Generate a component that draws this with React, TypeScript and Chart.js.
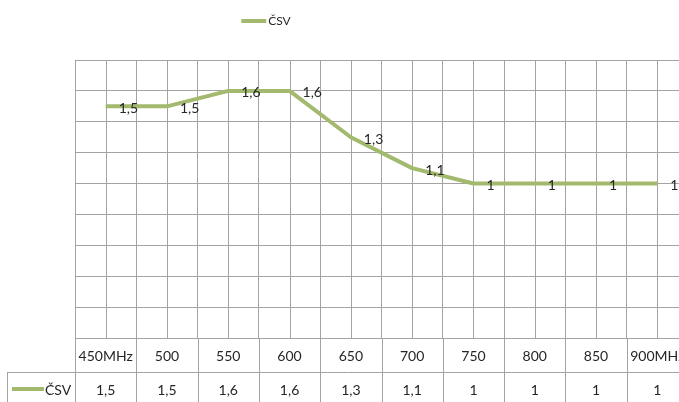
import React, { useEffect, useRef } from "react";
import { Chart, registerables } from "chart.js";

Chart.register(...registerables);

// Frequency points and standing-wave ratio (ČSV) values
const categories = ["450MHz", "500", "550", "600", "650", "700", "750", "800", "850", "900MHz"];
const csvValues = [1.5, 1.5, 1.6, 1.6, 1.3, 1.1, 1, 1, 1, 1];
const seriesName = "ČSV";

const yMin = 0;
const yMax = 1.8;
const yStep = 0.2;

const LINE_COLOR = "#a3b96d";
const GRID_COLOR = "#a3a3a3";
const TEXT_COLOR = "#262626";
const FONT = "Lato, 'Open Sans', sans-serif";

const fmt = (v: number) => String(v).replace(".", ",");

// Legend entry centred above the plot
const topLegendPlugin = {
  id: "topLegend",
  afterDraw(chart: any) {
    const { ctx } = chart;
    ctx.save();
    ctx.font = `12px ${FONT}`;
    const textW = ctx.measureText(seriesName).width;
    const keyW = 25;
    const total = keyW + 2 + textW;
    const x0 = 256 - total / 2 + 10;
    const y = 21;
    ctx.strokeStyle = LINE_COLOR;
    ctx.lineWidth = 4;
    ctx.beginPath();
    ctx.moveTo(x0, y);
    ctx.lineTo(x0 + keyW, y);
    ctx.stroke();
    ctx.fillStyle = TEXT_COLOR;
    ctx.textAlign = "left";
    ctx.textBaseline = "middle";
    ctx.fillText(seriesName, x0 + keyW + 2, y);
    ctx.restore();
  },
};

// Extra vertical lines through the middle of each category
const centerLinesPlugin = {
  id: "centerLines",
  beforeDatasetsDraw(chart: any) {
    const { ctx, chartArea } = chart;
    const xs = chart.scales.x;
    ctx.save();
    ctx.strokeStyle = GRID_COLOR;
    ctx.lineWidth = 1;
    for (let i = 0; i < categories.length; i++) {
      const px = Math.round(xs.getPixelForValue(i)) + 0.5;
      ctx.beginPath();
      ctx.moveTo(px, chartArea.top);
      ctx.lineTo(px, chartArea.bottom);
      ctx.stroke();
    }
    ctx.restore();
  },
};

// Value labels to the right of each point
const valueLabelsPlugin = {
  id: "valueLabels",
  afterDatasetsDraw(chart: any) {
    const { ctx } = chart;
    const meta = chart.getDatasetMeta(0);
    ctx.save();
    ctx.font = `14px ${FONT}`;
    ctx.fillStyle = TEXT_COLOR;
    ctx.textAlign = "left";
    ctx.textBaseline = "middle";
    meta.data.forEach((pt: any, i: number) => {
      ctx.fillText(fmt(csvValues[i]), pt.x + 13, pt.y + 2);
    });
    ctx.restore();
  },
};

// Data table under the plot: category row and value row with legend key
const dataTablePlugin = {
  id: "dataTable",
  afterDraw(chart: any) {
    const { ctx, chartArea } = chart;
    const xs = chart.scales.x;
    const n = categories.length;
    const half = (xs.getPixelForValue(1) - xs.getPixelForValue(0)) / 2;
    const left = chartArea.left;
    const right = xs.getPixelForValue(n - 1) + half;
    const row1Top = chartArea.bottom;
    const rowH = 34;
    const row2Top = row1Top + rowH;
    const row2Bottom = row2Top + rowH;
    const keyLeft = 7;
    const r = (v: number) => Math.round(v) + 0.5;

    ctx.save();
    ctx.strokeStyle = GRID_COLOR;
    ctx.lineWidth = 1;
    ctx.beginPath();
    // horizontal rules
    ctx.moveTo(left, r(row1Top));
    ctx.lineTo(right, r(row1Top));
    ctx.moveTo(keyLeft, r(row2Top));
    ctx.lineTo(right, r(row2Top));
    ctx.moveTo(keyLeft, r(row2Bottom));
    ctx.lineTo(right, r(row2Bottom));
    // left borders
    ctx.moveTo(r(left), row1Top);
    ctx.lineTo(r(left), row2Bottom);
    ctx.moveTo(r(keyLeft), row2Top);
    ctx.lineTo(r(keyLeft), row2Bottom);
    // cell dividers
    for (let i = 0; i <= n; i++) {
      const px = r(xs.getPixelForValue(i) - half);
      ctx.moveTo(px, row1Top);
      ctx.lineTo(px, row2Bottom);
    }
    ctx.stroke();

    ctx.font = `14px ${FONT}`;
    ctx.fillStyle = TEXT_COLOR;
    ctx.textAlign = "center";
    ctx.textBaseline = "middle";
    for (let i = 0; i < n; i++) {
      const cx = xs.getPixelForValue(i);
      ctx.fillText(categories[i], cx, row1Top + rowH / 2 + 1);
      ctx.fillText(fmt(csvValues[i]), cx, row2Top + rowH / 2 + 1);
    }

    // legend key in the value row
    ctx.strokeStyle = LINE_COLOR;
    ctx.lineWidth = 4;
    ctx.beginPath();
    ctx.moveTo(12, row2Top + rowH / 2);
    ctx.lineTo(44, row2Top + rowH / 2);
    ctx.stroke();
    ctx.textAlign = "left";
    ctx.fillText(seriesName, 45, row2Top + rowH / 2 + 1);
    ctx.restore();
  },
};

export default function App() {
  const canvasRef = useRef<HTMLCanvasElement | null>(null);

  useEffect(() => {
    const canvas = canvasRef.current;
    if (!canvas) return;
    const chart = new Chart(canvas, {
      type: "line",
      data: {
        labels: categories,
        datasets: [
          {
            label: seriesName,
            data: csvValues,
            borderColor: LINE_COLOR,
            backgroundColor: LINE_COLOR,
            borderWidth: 4,
            pointRadius: 0,
            pointHoverRadius: 0,
            tension: 0,
            borderJoinStyle: "round",
          },
        ],
      },
      options: {
        responsive: false,
        animation: false,
        devicePixelRatio: 1,
        layout: { padding: { left: 75, right: 2, top: 60, bottom: 68 } },
        plugins: {
          legend: { display: false },
          tooltip: { enabled: false },
        },
        scales: {
          x: {
            type: "category",
            offset: true,
            grid: { offset: true, color: GRID_COLOR, drawTicks: false },
            border: { display: false },
            ticks: { display: false },
          },
          y: {
            min: yMin,
            max: yMax,
            ticks: { stepSize: yStep, display: false },
            grid: { color: GRID_COLOR, drawTicks: false },
            border: { display: false },
          },
        },
      },
      plugins: [centerLinesPlugin, valueLabelsPlugin, dataTablePlugin, topLegendPlugin],
    });
    return () => chart.destroy();
  }, []);

  return (
    <div
      style={{
        position: "fixed",
        left: 0,
        top: 0,
        width: 679,
        height: 402,
        overflow: "hidden",
        background: "#ffffff",
      }}
    >
      <canvas ref={canvasRef} width={690} height={406} style={{ display: "block" }} />
    </div>
  );
}
